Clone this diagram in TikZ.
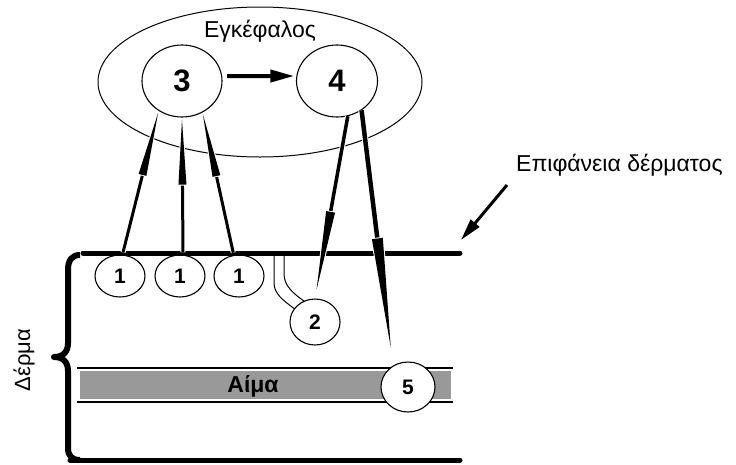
\documentclass[tikz,border=0pt]{standalone}
\usepackage{fontspec}
\setmainfont{Liberation Sans}
\usetikzlibrary{shapes.geometric,arrows.meta,calc}
\definecolor{blood}{RGB}{153,153,153}
\tikzset{
  oval/.style={ellipse, draw, line width=1.1pt, fill=white, inner sep=0pt},
  bignum/.style={font=\fontsize{31}{33}\selectfont\bfseries},
  smallnum/.style={font=\fontsize{21}{23}\selectfont\bfseries},
  lbl/.style={font=\fontsize{23}{25}\selectfont, inner sep=0pt},
  skin/.style={line width=5pt, line cap=round},
}
% tapered arrow: start, tip, line width, head length, head width
\newcommand{\tapArrow}[5]{%
  \path (#1) coordinate (ta-s) (#2) coordinate (ta-e);
  \coordinate (ta-m) at ($(ta-e)!#4!(ta-s)$);
  \draw[white, line width=#3+2pt] (ta-s) -- (ta-m);
  \filldraw[white, line width=2pt, line join=round] ($(ta-m)!#5/2!90:(ta-e)$) -- (ta-e) -- ($(ta-m)!#5/2!-90:(ta-e)$) -- cycle;
  \draw[line width=#3] (ta-s) -- ($(ta-m)!-1pt!(ta-e)$);
  \fill ($(ta-m)!#5/2!90:(ta-e)$) -- (ta-e) -- ($(ta-m)!#5/2!-90:(ta-e)$) -- cycle;
}
\begin{document}
\begin{tikzpicture}[x=1pt,y=-1pt]
\useasboundingbox (0,0) rectangle (736,464);
% brain
\node[ellipse, draw, line width=1pt, minimum width=324pt, minimum height=150pt, inner sep=0pt] (brain) at (260,82) {};
\node[lbl] (brainlbl) at (260,31) {Εγκέφαλος};
\node[oval, minimum width=80pt, minimum height=72pt, bignum] (n3) at (182,81) {3};
\node[oval, minimum width=81pt, minimum height=72pt, bignum] (n4) at (337,81) {4};
\draw[line width=4pt, -{Triangle[length=24pt,width=12pt]}, shorten <=5pt, shorten >=2pt] (n3.7) -- (n4.173);
% blood band
\fill[blood] (80,371) rectangle (451,399);
\draw[line width=1.5pt] (77,368) -- (453,368);
\draw[line width=1.5pt] (77,402) -- (453,402);
\node[lbl, font=\fontsize{23}{25}\selectfont\bfseries] (blood) at (253,386) {Αίμα};
% receptors
\node[oval, minimum width=50pt, minimum height=42pt, smallnum] (c1a) at (120,276) {1};
\node[oval, minimum width=50pt, minimum height=42pt, smallnum] (c1b) at (180,276) {1};
\node[oval, minimum width=50pt, minimum height=42pt, smallnum] (c1c) at (239,276) {1};
\node[oval, minimum width=50pt, minimum height=46pt, smallnum] (n2) at (315,322) {2};
\node[oval, minimum width=54pt, minimum height=50pt, smallnum] (n5) at (408,387) {5};
% nerve ending of 2
\draw[line width=1pt] (274,255) -- (274,283) .. controls (274,294) and (284,301) .. (n2.147);
\draw[line width=1pt] (284,255) -- (284,274) .. controls (284,286) and (294,294) .. (n2.118);
% skin surfaces
\draw[skin] (83,253) -- (460,253);
\draw[skin] (70,460) -- (460,460);
% brace
\draw[line width=6pt, line join=round] (80,255) .. controls (72,255) and (68,260) .. (68,270) -- (68,343)
  .. controls (68,352) and (63,357) .. (54,357) .. controls (63,357) and (68,362) .. (68,371)
  -- (68,448) .. controls (68,456) and (72,460) .. (80,460);
\node[lbl, font=\fontsize{22}{24}\selectfont, rotate=90] (derma) at (24,360) {Δέρμα};
% afferent arrows
\tapArrow{$(c1a.north)+(3,-2)$}{$(n3.232)!2pt!(c1a.north)$}{3pt}{64pt}{8pt}
\tapArrow{$(c1b.north)+(3,-2)$}{$(n3.south)!2pt!(c1b.north)$}{3pt}{65pt}{8pt}
\tapArrow{$(c1c.100)+(-2,-2)$}{$(n3.303)!2pt!(c1c.100)$}{3pt}{63pt}{8pt}
% efferent arrows
\tapArrow{n4.287}{$(n2.north)!9pt!(n4.287)$}{3.5pt}{79pt}{9pt}
\tapArrow{n4.310}{$(n5.125)!18pt!(n4.310)$}{4.5pt}{110pt}{11pt}
% surface label
\node[lbl, anchor=west] (surf) at (516,165) {Επιφάνεια δέρματος};
\coordinate (ptail) at (507,185);
\coordinate (ptip) at (461,240);
\draw[line width=3pt, -{Triangle[length=22pt,width=11pt]}] (ptail) -- (ptip);
\end{tikzpicture}
\end{document}
